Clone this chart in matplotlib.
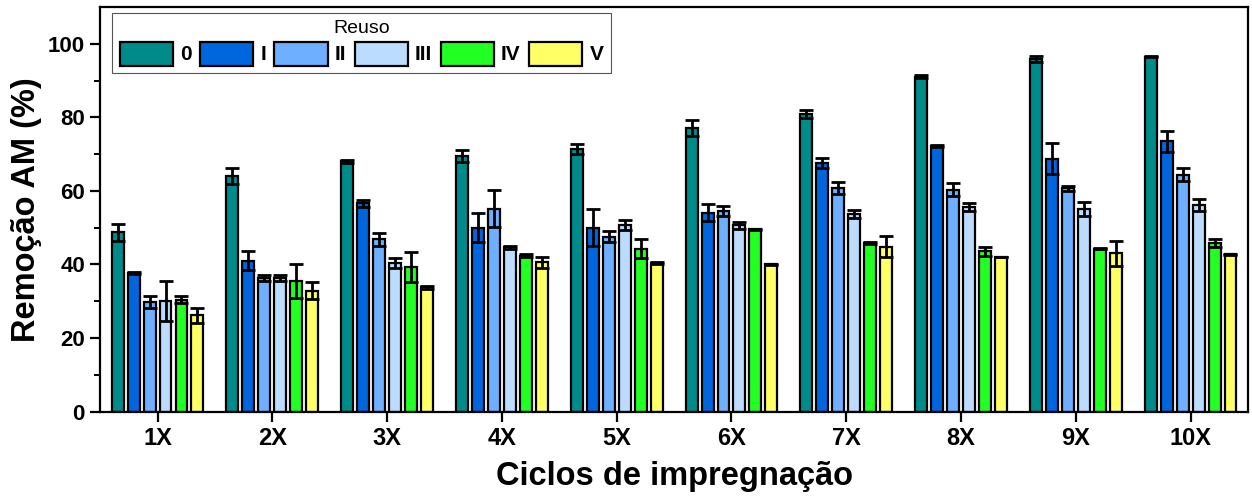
import matplotlib.pyplot as plt
import numpy as np

plt.rcParams['font.family'] = ['Liberation Sans', 'DejaVu Sans']

# impregnation cycles on x, one bar per reuse round
ciclos = ['1X', '2X', '3X', '4X', '5X', '6X', '7X', '8X', '9X', '10X']
reuso = ['0', 'I', 'II', 'III', 'IV', 'V']
cores = ['#008B8B', '#0066DD', '#6EB0FF', '#BCDCFF', '#22FF22', '#FFFF66']

# removal (%) per reuse round, one value per cycle
rem_0 = [48.8, 64.0, 68.0, 69.4, 71.4, 77.2, 80.9, 91.1, 95.9, 96.5]
rem_I = [37.6, 41.0, 56.6, 50.0, 50.0, 54.1, 67.6, 72.3, 68.8, 73.5]
rem_II = [29.7, 36.3, 46.8, 55.2, 47.5, 54.5, 60.7, 60.3, 60.7, 64.4]
rem_III = [30.0, 36.3, 40.4, 44.7, 50.7, 50.6, 53.7, 55.7, 55.1, 56.2]
rem_IV = [30.4, 35.6, 39.3, 42.4, 44.3, 49.5, 45.8, 43.6, 44.3, 45.8]
rem_V = [26.2, 32.9, 33.8, 40.6, 40.4, 40.0, 44.8, 42.0, 43.1, 42.7]

# standard deviations
dp_0 = [2.3, 2.2, 0.3, 1.6, 1.4, 2.2, 1.0, 0.4, 0.8, 0.1]
dp_I = [0.3, 2.6, 0.9, 4.0, 5.1, 2.3, 1.4, 0.3, 4.3, 2.8]
dp_II = [1.6, 0.7, 1.8, 5.0, 1.5, 1.4, 1.6, 1.8, 0.7, 1.8]
dp_III = [5.4, 0.7, 1.4, 0.4, 1.3, 0.9, 1.1, 1.1, 1.8, 1.6]
dp_IV = [1.0, 4.6, 4.0, 0.3, 2.5, 0.2, 0.2, 1.2, 0.1, 1.0]
dp_V = [2.0, 2.3, 0.4, 1.5, 0.3, 0.2, 2.9, 0.1, 3.4, 0.2]

valores = [rem_0, rem_I, rem_II, rem_III, rem_IV, rem_V]
desvios = [dp_0, dp_I, dp_II, dp_III, dp_IV, dp_V]

fig = plt.figure(figsize=(12.52, 5.0), dpi=100)
ax = fig.add_axes([0.08, 0.177, 0.9168, 0.809])

x = np.arange(1, len(ciclos) + 1)
passo = 0.139
largura = 0.104

for i in range(len(reuso)):
    pos = x + (i - 2.5) * passo
    ax.bar(pos, valores[i], width=largura, color=cores[i], edgecolor='black',
           linewidth=1.6, label=reuso[i], zorder=2)
    ax.errorbar(pos, valores[i], yerr=desvios[i], fmt='none', ecolor='black',
                elinewidth=2, capsize=5, capthick=2, zorder=3)

ax.set_xlim(0.5, 10.5)
ax.set_ylim(0, 110)
ax.set_xticks(x)
ax.set_xticklabels(ciclos)
ax.set_yticks([0, 20, 40, 60, 80, 100])
ax.set_yticks([10, 30, 50, 70, 90], minor=True)

for s in ax.spines.values():
    s.set_linewidth(1.6)
ax.tick_params(axis='both', which='major', direction='out', length=7, width=1.6, pad=4)
ax.tick_params(axis='x', labelsize=17)
ax.tick_params(axis='y', labelsize=16)
ax.tick_params(axis='y', which='minor', direction='out', length=4, width=1.4)
for lab in ax.get_xticklabels() + ax.get_yticklabels():
    lab.set_fontweight('bold')

ax.set_xlabel('Ciclos de impregnação', fontsize=23.5, fontweight='bold', labelpad=8)
ax.set_ylabel('Remoção AM (%)', fontsize=23.5, fontweight='bold', labelpad=4)

leg = ax.legend(title='Reuso', ncol=6, loc='upper left', bbox_to_anchor=(0.0105, 0.985),
                prop={'weight': 'bold', 'size': 15}, title_fontsize=14,
                handlelength=2.55, handleheight=1.4, handletextpad=0.35,
                columnspacing=0.4, borderpad=0.35, labelspacing=0.2,
                borderaxespad=0, fancybox=False, framealpha=1, edgecolor='#555555')
leg.get_frame().set_linewidth(0.8)

fig.savefig('out.png', dpi=100)
